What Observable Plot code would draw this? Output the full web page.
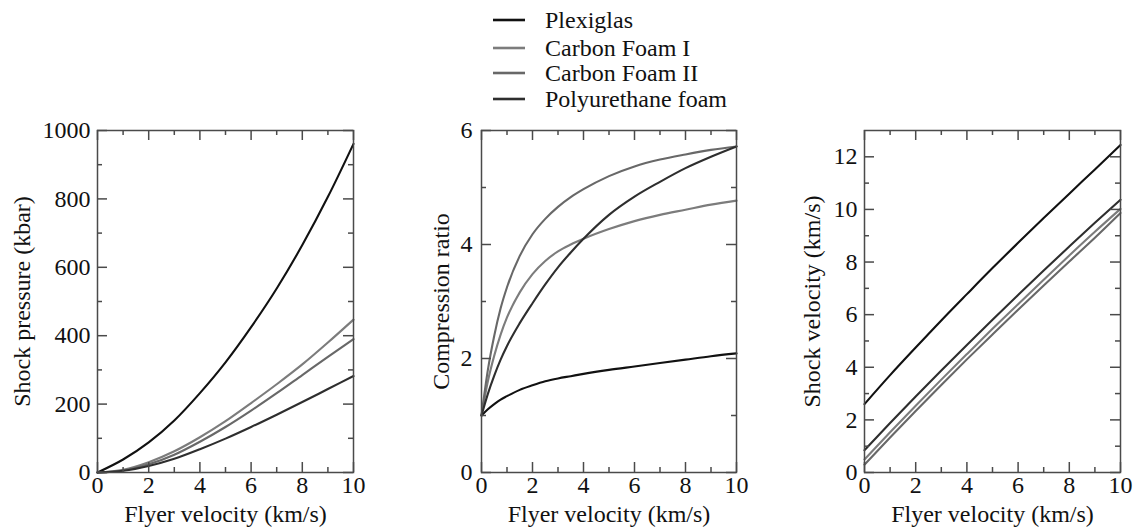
<!DOCTYPE html>
<html><head><meta charset="utf-8">
<script src="https://cdn.jsdelivr.net/npm/d3@7"></script>
<script src="https://cdn.jsdelivr.net/npm/@observablehq/plot@0.6"></script>
<style>
body{margin:0;background:#fff;}
#root{position:relative;width:1135px;height:529px;overflow:hidden;font-family:"Liberation Serif","Times New Roman",serif;color:#111;}
.row{position:absolute;left:493px;height:28px;display:flex;align-items:center;white-space:nowrap;font-size:24px;}
.row svg{margin-right:20px;}
</style></head>
<body><div id="root"></div>
<script>
// ---- data ----
const series = ["Plexiglas", "Carbon Foam I", "Carbon Foam II", "Polyurethane foam"];
const seriesColors = ["#111111", "#7c7c7c", "#686868", "#2e2e2e"];

const velocity = [0, 1, 2, 3, 4, 5, 6, 7, 8, 9, 10];
const velocityFine = [0, 0.25, 0.5, 0.75, 1, 1.5, 2, 2.5, 3, 3.5, 4, 5, 6, 7, 8, 9, 10];

// Shock pressure (kbar)
const pressurePlexiglas = [0, 38, 88, 152, 232, 322, 425, 538, 665, 806, 961];
const pressureCarbonI   = [0, 8, 30, 62, 103, 150, 203, 258, 316, 380, 447];
const pressureCarbonII  = [0, 6, 24, 52, 90, 133, 181, 232, 285, 338, 390];
const pressurePU        = [0, 5, 19, 40, 68, 99, 133, 169, 206, 244, 282];

// Compression ratio
const compPlexiglas = [1, 1.11, 1.2, 1.28, 1.34, 1.45, 1.53, 1.6, 1.65, 1.69, 1.73, 1.8, 1.86, 1.92, 1.98, 2.04, 2.09];
const compCarbonI   = [1, 1.6, 2.05, 2.42, 2.72, 3.16, 3.48, 3.71, 3.88, 4.0, 4.1, 4.27, 4.41, 4.52, 4.61, 4.7, 4.77];
const compCarbonII  = [1, 1.8, 2.4, 2.88, 3.25, 3.8, 4.18, 4.45, 4.66, 4.83, 4.97, 5.2, 5.37, 5.49, 5.58, 5.66, 5.72];
const compPU        = [1, 1.38, 1.7, 1.98, 2.22, 2.62, 2.97, 3.3, 3.6, 3.86, 4.1, 4.52, 4.84, 5.1, 5.34, 5.54, 5.72];

// Shock velocity (km/s)
const usPlexiglas = [2.6, 3.7, 4.75, 5.78, 6.78, 7.77, 8.73, 9.67, 10.6, 11.52, 12.45];
const usCarbonI   = [0.5, 1.53, 2.54, 3.53, 4.5, 5.46, 6.4, 7.33, 8.25, 9.15, 10.02];
const usCarbonII  = [0.3, 1.33, 2.34, 3.33, 4.3, 5.25, 6.19, 7.11, 8.02, 8.92, 9.86];
const usPU        = [0.85, 1.88, 2.89, 3.88, 4.85, 5.81, 6.75, 7.68, 8.59, 9.49, 10.37];

// ticks
const xMajor = [0, 2, 4, 6, 8, 10];
const xMinor = [1, 3, 5, 7, 9];
const pressureMajor = [0, 200, 400, 600, 800, 1000];
const pressureMinor = [100, 300, 500, 700, 900];
const compMajor = [0, 2, 4, 6];
const compMinor = [1, 3, 5];
const usMajor = [0, 2, 4, 6, 8, 10, 12];
const usMinor = [1, 3, 5, 7, 9, 11];

const xLabel = "Flyer velocity (km/s)";

function rows(xs, arrays) {
  return arrays.flatMap((arr, i) => arr.map((v, j) => ({x: xs[j], y: v, s: series[i]})));
}

const panels = [
  {left: 0, width: 370, ml: 97, mr: 17, yDomain: [0, 1000], yMajor: pressureMajor, yMinor: pressureMinor,
   yLabel: "Shock pressure (kbar)", labelDx: -75, tickPad: 7,
   data: rows(velocity, [pressurePlexiglas, pressureCarbonI, pressureCarbonII, pressurePU])},
  {left: 380, width: 370, ml: 101, mr: 14, yDomain: [0, 6], yMajor: compMajor, yMinor: compMinor,
   yLabel: "Compression ratio", labelDx: -40, tickPad: 9,
   data: rows(velocityFine, [compPlexiglas, compCarbonI, compCarbonII, compPU])},
  {left: 760, width: 375, ml: 104, mr: 15, yDomain: [0, 13], yMajor: usMajor, yMinor: usMinor,
   yLabel: "Shock velocity (km/s)", labelDx: -52, tickPad: 7,
   data: rows(velocity, [usPlexiglas, usCarbonI, usCarbonII, usPU])}
];

const root = document.getElementById("root");
const H = 409, mt = 10, mb = 57;
const frameH = H - mt - mb;
const tickColor = "#4a4a4a";
const FS = 24;
const fontFamily = '"Liberation Serif","Times New Roman",serif';

for (const p of panels) {
  const frameW = p.width - p.ml - p.mr;
  const chart = Plot.plot({
    width: p.width, height: H,
    marginLeft: p.ml, marginRight: p.mr, marginTop: mt, marginBottom: mb,
    style: {fontFamily, fontSize: FS + "px", color: "#111", background: "white", overflow: "visible"},
    x: {domain: [0, 10], axis: null},
    y: {domain: p.yDomain, axis: null},
    color: {domain: series, range: seriesColors},
    marks: [
      Plot.line(p.data, {x: "x", y: "y", stroke: "s", z: "s", strokeWidth: 2.1, curve: "monotone-x"}),
      // inward ticks on all four sides
      Plot.tickX(xMajor, {x: d => d, insetTop: frameH - 10, stroke: tickColor, strokeWidth: 1.5}),
      Plot.tickX(xMajor, {x: d => d, insetBottom: frameH - 10, stroke: tickColor, strokeWidth: 1.5}),
      Plot.tickX(xMinor, {x: d => d, insetTop: frameH - 5, stroke: tickColor, strokeWidth: 1.5}),
      Plot.tickX(xMinor, {x: d => d, insetBottom: frameH - 5, stroke: tickColor, strokeWidth: 1.5}),
      Plot.tickY(p.yMajor, {y: d => d, insetRight: frameW - 10, stroke: tickColor, strokeWidth: 1.5}),
      Plot.tickY(p.yMajor, {y: d => d, insetLeft: frameW - 10, stroke: tickColor, strokeWidth: 1.5}),
      Plot.tickY(p.yMinor, {y: d => d, insetRight: frameW - 5, stroke: tickColor, strokeWidth: 1.5}),
      Plot.tickY(p.yMinor, {y: d => d, insetLeft: frameW - 5, stroke: tickColor, strokeWidth: 1.5}),
      Plot.frame({stroke: tickColor, strokeWidth: 1.5}),
      // tick labels
      Plot.text(xMajor, {x: d => d, frameAnchor: "bottom", text: d => String(d), lineAnchor: "top",
        dy: 3, fontSize: FS, fill: "#111"}),
      Plot.text(p.yMajor, {y: d => d, frameAnchor: "left", text: d => String(d), textAnchor: "end",
        lineAnchor: "middle", dx: -p.tickPad, fontSize: FS, fill: "#111"}),
      // axis titles
      Plot.text([xLabel], {frameAnchor: "bottom", text: d => d, textAnchor: "middle", lineAnchor: "middle", dy: 42,
        fontSize: FS, fill: "#111"}),
      Plot.text([p.yLabel], {frameAnchor: "left", text: d => d, rotate: -90, textAnchor: "middle", lineAnchor: "middle",
        dx: p.labelDx, fontSize: FS, fill: "#111"})
    ]
  });
  chart.style.position = "absolute";
  chart.style.left = p.left + "px";
  chart.style.top = "120px";
  root.appendChild(chart);
}

// legend
const legendRows = [20, 48, 73, 99];
series.forEach((name, i) => {
  const row = document.createElement("div");
  row.className = "row";
  row.style.top = (legendRows[i] - 14) + "px";
  row.innerHTML = `<svg width="32" height="6"><line x1="0" x2="32" y1="3" y2="3" stroke="${seriesColors[i]}" stroke-width="2.6"/></svg><span>${name}</span>`;
  root.appendChild(row);
});
</script>
</body></html>
